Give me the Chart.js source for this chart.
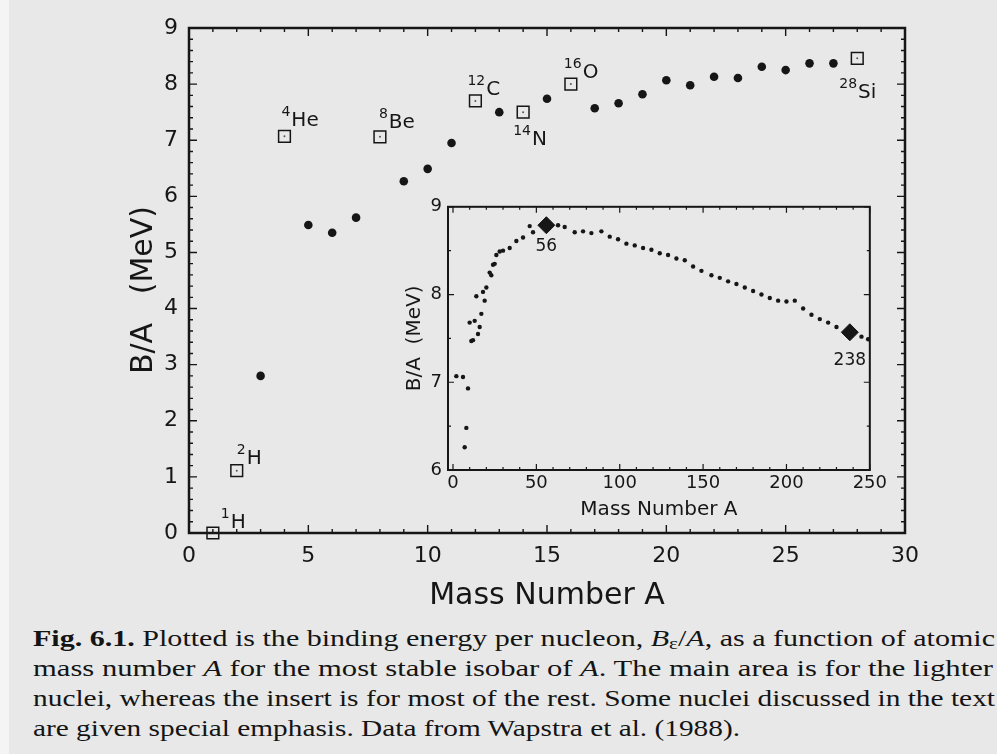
<!DOCTYPE html>
<html>
<head>
<meta charset="utf-8">
<script src="https://cdn.jsdelivr.net/npm/chart.js@4.4.1/dist/chart.umd.min.js"></script>
<style>
  body { margin: 0; width: 997px; height: 754px; background: #e8e8e8; position: relative; overflow: hidden; }
  #edge { position: absolute; left: 0; top: 0; width: 9px; height: 754px; background: #f4f4f4; }
  #mainBox { position: absolute; left: 0; top: 0; width: 997px; height: 620px; }
  #insetBox { position: absolute; left: 380px; top: 190px; width: 510px; height: 340px; }
  #caption { position: absolute; left: 33px; top: 623px; font-family: "Liberation Serif", "DejaVu Serif", serif;
             font-size: 24px; line-height: 30px; color: #141414; }
  #caption .ln { white-space: nowrap; transform-origin: 0 0; display: block; width: max-content; }
  #caption sub { font-size: 70%; line-height: 0; vertical-align: -0.15em; }
</style>
</head>
<body>
<div id="edge"></div>
<div id="mainBox"><canvas id="mainChart"></canvas></div>
<div id="insetBox"><canvas id="insetChart"></canvas></div>
<div id="caption">
  <span class="ln" data-w="962"><b>Fig. 6.1.</b> Plotted is the binding energy per nucleon, <i>B</i><sub>&#949;</sub>/<i>A</i>, as a function of atomic</span>
  <span class="ln" data-w="960">mass number <i>A</i> for the most stable isobar of <i>A</i>. The main area is for the lighter</span>
  <span class="ln" data-w="962">nuclei, whereas the insert is for most of the rest. Some nuclei discussed in the text</span>
  <span class="ln" data-w="707">are given special emphasis. Data from Wapstra et al. (1988).</span>
</div>
<script>
// main panel: light nuclei, filled dots
const lightA  = [3, 5, 6, 7, 9, 10, 11, 13, 15, 17, 18, 19, 20, 21, 22, 23, 24, 25, 26, 27];
const lightBA = [2.80, 5.49, 5.35, 5.62, 6.27, 6.49, 6.95, 7.50, 7.74, 7.57, 7.66, 7.82, 8.07, 7.98, 8.13, 8.11, 8.31, 8.25, 8.37, 8.37];

// main panel: emphasised nuclei (open squares)
const markedA   = [1, 2, 4, 8, 12, 14, 16, 28];
const markedBA  = [0.00, 1.11, 7.07, 7.06, 7.70, 7.50, 8.00, 8.46];
const markedSym = ['H', 'H', 'He', 'Be', 'C', 'N', 'O', 'Si'];
// label placement relative to the square (px)
const markedOffsets = [[8, -5], [0, -7], [-3, -10], [-1, -9], [-8, -6], [-10, 33], [-7, -6], [-18, 40]];

const mainXTicks = [0, 5, 10, 15, 20, 25, 30];
const mainYTicks = [0, 1, 2, 3, 4, 5, 6, 7, 8, 9];

// insert: most of the rest
const insetA  = [2, 6, 9, 8, 7, 10, 13, 11, 12, 15, 16, 17, 14, 19, 18, 20, 22, 23, 24, 25, 26, 28, 30, 34, 38, 42, 46, 48,
                 63, 67, 73, 78, 83, 89, 94, 99, 104, 109, 114, 119, 124, 129, 134, 139, 144, 149, 155, 160, 165,
                 170, 175, 180, 185, 190, 195, 200, 205, 210, 215, 220, 225, 230, 245, 249];
const insetBA = [7.07, 7.06, 6.93, 6.48, 6.26, 7.68, 7.70, 7.47, 7.48, 7.55, 7.63, 7.78, 7.98, 7.93, 8.03, 8.08, 8.25, 8.22, 8.34, 8.35, 8.45, 8.49, 8.50, 8.53, 8.61, 8.65, 8.78, 8.71,
                 8.79, 8.77, 8.71, 8.72, 8.70, 8.72, 8.66, 8.63, 8.58, 8.56, 8.53, 8.51, 8.47, 8.45, 8.41, 8.39, 8.32, 8.27, 8.22, 8.19, 8.15,
                 8.12, 8.08, 8.04, 8.00, 7.96, 7.93, 7.92, 7.93, 7.84, 7.77, 7.72, 7.68, 7.63, 7.52, 7.49];
const diamondA  = [56, 238];
const diamondBA = [8.79, 7.57];
const diamondLabelDy = [21, 28];

const insetXTicks = [0, 50, 100, 150, 200, 250];
const insetYTicks = [6, 7, 8, 9];

const ink = '#161616';
Chart.defaults.font.family = "'DejaVu Sans', sans-serif";
Chart.defaults.color = ink;

function toPoints(xs, ys) {
  return xs.map((v, i) => ({ x: v, y: ys[i] }));
}

// frame with inward ticks on all four sides
const boxTicks = {
  id: 'boxTicks',
  afterDraw(chart, args, o) {
    const { ctx, chartArea: a } = chart;
    const xs = chart.scales.x, ys = chart.scales.y;
    ctx.save();
    ctx.strokeStyle = ink;
    ctx.lineWidth = o.tickWidth;
    ctx.beginPath();
    for (let n = Math.ceil(xs.min / o.xMinor - 1e-9); n * o.xMinor <= xs.max + 1e-9; n++) {
      const v = n * o.xMinor;
      const px = xs.getPixelForValue(v);
      const major = Math.abs(v / o.xMajor - Math.round(v / o.xMajor)) < 1e-6;
      const len = major ? o.majorLen : o.minorLen;
      ctx.moveTo(px, a.bottom); ctx.lineTo(px, a.bottom - len);
      ctx.moveTo(px, a.top); ctx.lineTo(px, a.top + len);
    }
    for (let n = Math.ceil(ys.min / o.yMinor - 1e-9); n * o.yMinor <= ys.max + 1e-9; n++) {
      const v = n * o.yMinor;
      const py = ys.getPixelForValue(v);
      const major = Math.abs(v / o.yMajor - Math.round(v / o.yMajor)) < 1e-6;
      const len = major ? o.majorLen : o.minorLen;
      ctx.moveTo(a.left, py); ctx.lineTo(a.left + len, py);
      ctx.moveTo(a.right, py); ctx.lineTo(a.right - len, py);
    }
    ctx.stroke();
    ctx.lineWidth = o.frameWidth;
    ctx.strokeRect(a.left, a.top, a.right - a.left, a.bottom - a.top);
    ctx.restore();
  }
};

// nucleus labels like 4He with a raised mass number
const nucleusLabels = {
  id: 'nucleusLabels',
  afterDatasetsDraw(chart, args, o) {
    if (!o.items) return;
    const { ctx } = chart;
    const xs = chart.scales.x, ys = chart.scales.y;
    ctx.save();
    ctx.fillStyle = ink;
    ctx.textAlign = 'left';
    ctx.textBaseline = 'alphabetic';
    o.items.forEach(it => {
      const px = xs.getPixelForValue(it.x) + it.dx;
      const py = ys.getPixelForValue(it.y) + it.dy;
      ctx.font = o.supFont;
      ctx.fillText(it.sup, px, py - o.supRaise);
      const w = ctx.measureText(it.sup).width;
      ctx.font = o.font;
      ctx.fillText(it.text, px + w + 1, py);
    });
    ctx.restore();
  }
};

// plain labels under the diamonds of the insert
const numberLabels = {
  id: 'numberLabels',
  afterDatasetsDraw(chart, args, o) {
    if (!o.items) return;
    const { ctx } = chart;
    ctx.save();
    ctx.fillStyle = ink;
    ctx.font = o.font;
    ctx.textAlign = 'center';
    ctx.textBaseline = 'middle';
    o.items.forEach(it => {
      ctx.fillText(it.text, chart.scales.x.getPixelForValue(it.x), chart.scales.y.getPixelForValue(it.y) + it.dy);
    });
    ctx.restore();
  }
};

const mainChart = new Chart(document.getElementById('mainChart'), {
  type: 'scatter',
  data: {
    datasets: [
      {
        data: toPoints(lightA, lightBA),
        pointStyle: 'circle', pointRadius: 4.3,
        backgroundColor: ink, borderColor: ink, borderWidth: 0
      },
      {
        data: toPoints(markedA, markedBA),
        pointStyle: 'rect', pointRadius: 8.3,
        backgroundColor: 'rgba(0,0,0,0)', borderColor: ink, borderWidth: 1.5,
        clip: false
      },
      {
        data: toPoints(markedA, markedBA),
        pointStyle: 'circle', pointRadius: 1,
        backgroundColor: '#555', borderWidth: 0, clip: false
      }
    ]
  },
  options: {
    responsive: true,
    maintainAspectRatio: false,
    animation: false,
    devicePixelRatio: 1,
    layout: { padding: { left: 0, top: 28, right: 92, bottom: 0 } },
    plugins: {
      legend: { display: false },
      tooltip: { enabled: false },
      boxTicks: { xMinor: 1, xMajor: 5, yMinor: 0.2, yMajor: 1, minorLen: 4, majorLen: 8, tickWidth: 1.4, frameWidth: 2.5 },
      nucleusLabels: {
        font: "20px 'DejaVu Sans'", supFont: "14px 'DejaVu Sans'", supRaise: 10,
        items: markedA.map((a, i) => ({
          x: a, y: markedBA[i], sup: String(a), text: markedSym[i],
          dx: markedOffsets[i][0], dy: markedOffsets[i][1]
        }))
      }
    },
    scales: {
      x: {
        type: 'linear', min: 0, max: 30,
        grid: { display: false, drawTicks: false, tickLength: 0 },
        border: { display: false },
        afterBuildTicks: s => { s.ticks = mainXTicks.map(v => ({ value: v })); },
        afterFit: s => { s.height = 87; },
        ticks: { font: { size: 22 }, padding: 10, maxRotation: 0, autoSkip: false },
        title: { display: true, text: 'Mass Number A', font: { size: 30 }, padding: { top: 0, bottom: 6 } }
      },
      y: {
        type: 'linear', min: 0, max: 9,
        grid: { display: false, drawTicks: false, tickLength: 0 },
        border: { display: false },
        afterBuildTicks: s => { s.ticks = mainYTicks.map(v => ({ value: v })); },
        afterFit: s => { s.width = 189; },
        ticks: { font: { size: 22 }, padding: 11, autoSkip: false },
        title: { display: true, text: 'B/A   (MeV)  ', font: { size: 30 }, padding: { top: 126, bottom: 0 } }
      }
    }
  },
  plugins: [boxTicks, nucleusLabels]
});

const insetChart = new Chart(document.getElementById('insetChart'), {
  type: 'scatter',
  data: {
    datasets: [
      {
        data: toPoints(insetA, insetBA),
        pointStyle: 'circle', pointRadius: 2.2,
        backgroundColor: ink, borderWidth: 0
      },
      {
        data: toPoints(diamondA, diamondBA),
        pointStyle: 'rectRot', pointRadius: 8.5,
        backgroundColor: ink, borderColor: ink, borderWidth: 1, clip: false
      }
    ]
  },
  options: {
    responsive: true,
    maintainAspectRatio: false,
    animation: false,
    devicePixelRatio: 1,
    layout: { padding: { left: 0, top: 12, right: 16, bottom: 0 } },
    plugins: {
      legend: { display: false },
      tooltip: { enabled: false },
      boxTicks: { xMinor: 10, xMajor: 50, yMinor: 0.5, yMajor: 1, minorLen: 3, majorLen: 6, tickWidth: 1.2, frameWidth: 2 },
      numberLabels: {
        font: "17px 'DejaVu Sans'",
        items: diamondA.map((a, i) => ({ x: a, y: diamondBA[i], text: String(a), dy: diamondLabelDy[i] }))
      }
    },
    scales: {
      x: {
        type: 'linear', min: -3, max: 250,
        grid: { display: false, drawTicks: false, tickLength: 0 },
        border: { display: false },
        afterBuildTicks: s => { s.ticks = insetXTicks.map(v => ({ value: v })); },
        afterFit: s => { s.height = 60; },
        ticks: { font: { size: 18 }, padding: 3, maxRotation: 0, autoSkip: false },
        title: { display: true, text: 'Mass Number A', font: { size: 20 }, padding: { top: 0, bottom: 8 } }
      },
      y: {
        type: 'linear', min: 6, max: 9,
        grid: { display: false, drawTicks: false, tickLength: 0 },
        border: { display: false },
        afterBuildTicks: s => { s.ticks = insetYTicks.map(v => ({ value: v })); },
        afterFit: s => { s.width = 68; },
        ticks: { font: { size: 18 }, padding: 6, autoSkip: false },
        title: { display: true, text: 'B/A  (MeV)', font: { size: 20 }, padding: { top: 23, bottom: 0 } }
      }
    }
  },
  plugins: [boxTicks, numberLabels]
});

// stretch each caption line to the width it has in the photo
document.querySelectorAll('#caption .ln').forEach(el => {
  const w = el.getBoundingClientRect().width;
  el.style.transform = 'scaleX(' + (Number(el.dataset.w) / w) + ')';
});
</script>
</body>
</html>
